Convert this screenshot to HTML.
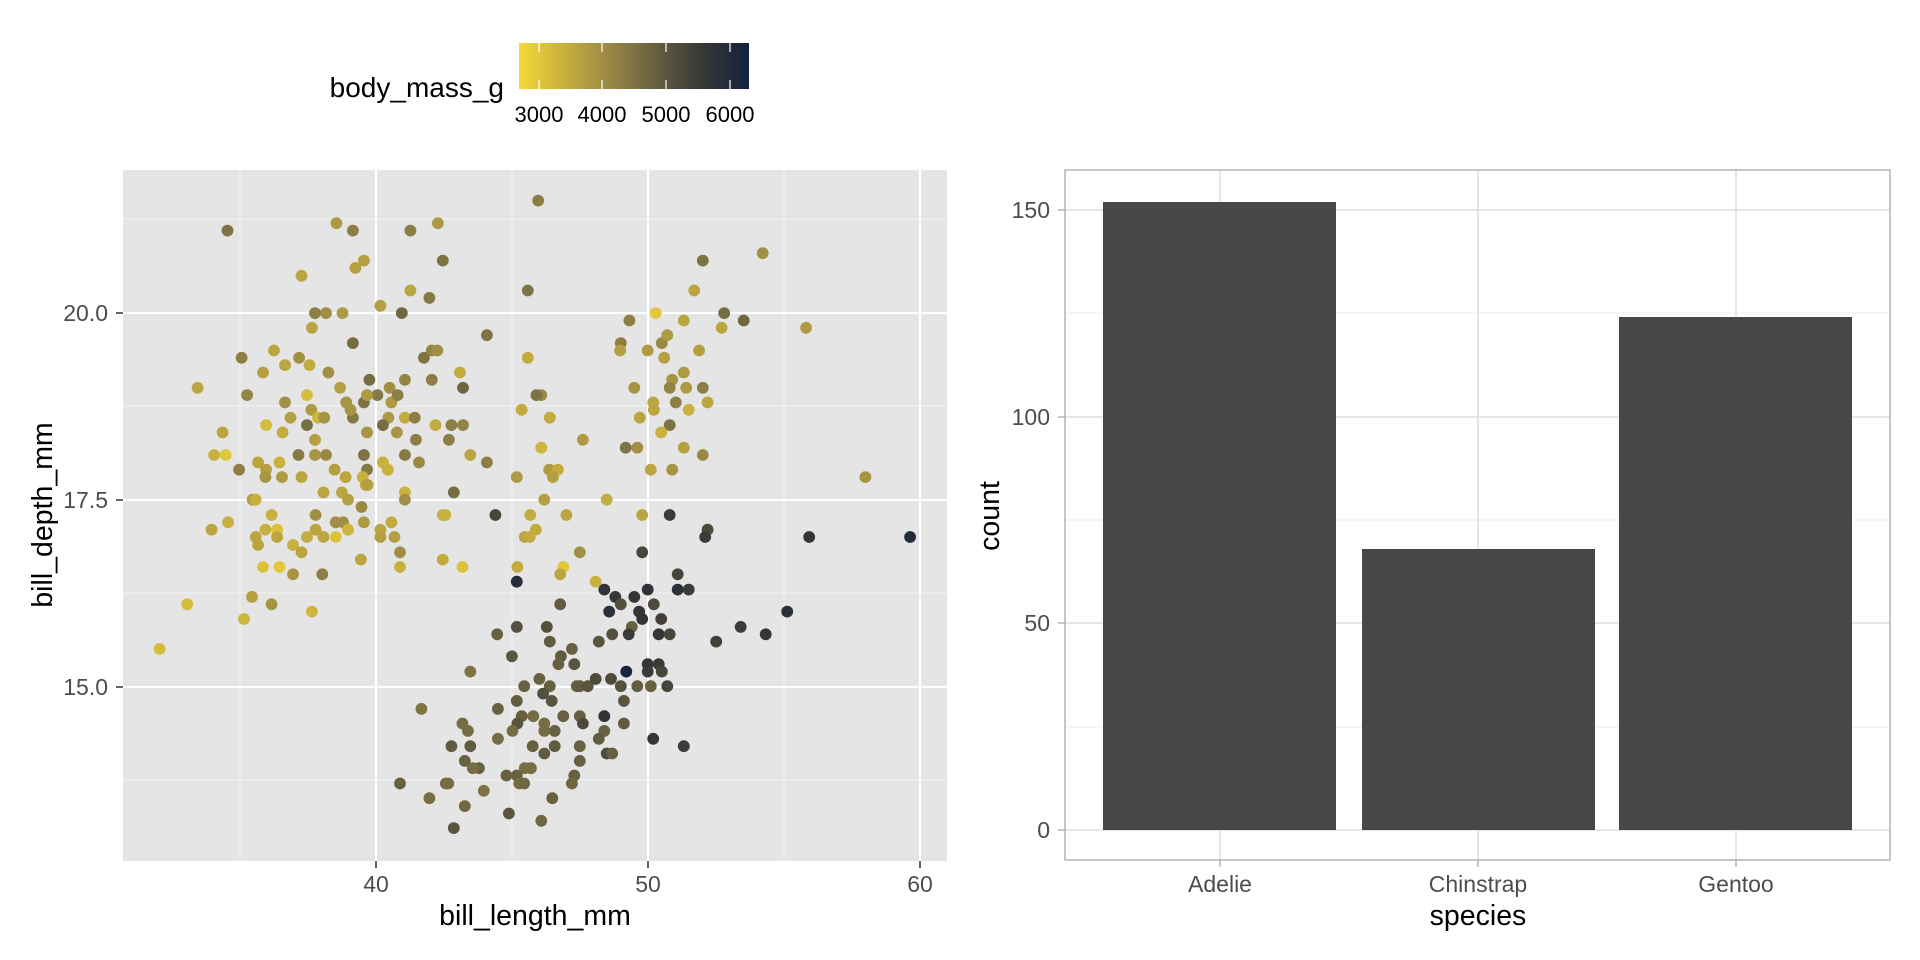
<!DOCTYPE html>
<html><head><meta charset="utf-8"><style>
html,body{margin:0;padding:0;background:#fff;}
svg{display:block;font-family:"Liberation Sans",Arial,sans-serif;}
</style></head><body>
<svg id="s" width="1920" height="960" viewBox="0 0 1920 960" xmlns="http://www.w3.org/2000/svg">
<defs><linearGradient id="g" x1="0" x2="1" y1="0" y2="0">
<stop offset="0" stop-color="#F3D83A"/><stop offset="0.222" stop-color="#c2ab3f"/><stop offset="0.361" stop-color="#a08f45"/><stop offset="0.5" stop-color="#7e7344"/><stop offset="0.639" stop-color="#5a553f"/><stop offset="0.806" stop-color="#363636"/><stop offset="1" stop-color="#13223f"/></linearGradient></defs>
<!-- legend -->
<text x="504" y="97" font-size="28" text-anchor="end" fill="#000">body_mass_g</text>
<rect x="519" y="43" width="230" height="46" fill="url(#g)"/>
<g stroke="#fff" stroke-width="1.2">
<line x1="539" y1="43" x2="539" y2="52"/><line x1="539" y1="80" x2="539" y2="89"/>
<line x1="602" y1="43" x2="602" y2="52"/><line x1="602" y1="80" x2="602" y2="89"/>
<line x1="666" y1="43" x2="666" y2="52"/><line x1="666" y1="80" x2="666" y2="89"/>
<line x1="730" y1="43" x2="730" y2="52"/><line x1="730" y1="80" x2="730" y2="89"/>
</g>
<g font-size="22" fill="#000" text-anchor="middle">
<text x="539" y="122">3000</text><text x="602" y="122">4000</text><text x="666" y="122">5000</text><text x="730" y="122">6000</text></g>
<!-- left panel -->
<rect x="123" y="170" width="824" height="691" fill="#e5e5e5"/>
<g stroke="#f2f2f2" stroke-width="1">
<line x1="240" y1="170" x2="240" y2="861"/><line x1="512" y1="170" x2="512" y2="861"/><line x1="784" y1="170" x2="784" y2="861"/>
<line x1="123" y1="219" x2="947" y2="219"/><line x1="123" y1="406" x2="947" y2="406"/><line x1="123" y1="593" x2="947" y2="593"/><line x1="123" y1="780" x2="947" y2="780"/>
</g>
<g stroke="#fff" stroke-width="2">
<line x1="376" y1="170" x2="376" y2="861"/><line x1="648" y1="170" x2="648" y2="861"/><line x1="920" y1="170" x2="920" y2="861"/>
<line x1="123" y1="313" x2="947" y2="313"/><line x1="123" y1="500" x2="947" y2="500"/><line x1="123" y1="687" x2="947" y2="687"/>
</g>
<g stroke="#333" stroke-width="1.5">
<line x1="116" y1="313" x2="123" y2="313"/><line x1="116" y1="500" x2="123" y2="500"/><line x1="116" y1="687" x2="123" y2="687"/>
<line x1="376" y1="861" x2="376" y2="868"/><line x1="648" y1="861" x2="648" y2="868"/><line x1="920" y1="861" x2="920" y2="868"/>
</g>
<g font-size="23" fill="#4d4d4d">
<text x="108" y="321" text-anchor="end">20.0</text><text x="108" y="508" text-anchor="end">17.5</text><text x="108" y="695" text-anchor="end">15.0</text>
<text x="376" y="892" text-anchor="middle">40</text><text x="648" y="892" text-anchor="middle">50</text><text x="920" y="892" text-anchor="middle">60</text>
</g>
<text x="535" y="925" font-size="28.5" text-anchor="middle">bill_length_mm</text>
<text transform="translate(52,515) rotate(-90)" font-size="28.5" text-anchor="middle">bill_depth_mm</text>
<g id="pts"></g>
<!-- right panel -->
<rect x="1065" y="170" width="825" height="690" fill="#fff"/>
<g stroke="#ebebeb" stroke-width="1">
<line x1="1065" y1="313" x2="1890" y2="313"/><line x1="1065" y1="520" x2="1890" y2="520"/><line x1="1065" y1="727" x2="1890" y2="727"/>
</g>
<g stroke="#dedede" stroke-width="1.5">
<line x1="1065" y1="210" x2="1890" y2="210"/><line x1="1065" y1="417" x2="1890" y2="417"/><line x1="1065" y1="623" x2="1890" y2="623"/><line x1="1065" y1="830" x2="1890" y2="830"/>
<line x1="1220" y1="170" x2="1220" y2="860"/><line x1="1478" y1="170" x2="1478" y2="860"/><line x1="1736" y1="170" x2="1736" y2="860"/>
</g>
<g fill="#474747">
<rect x="1103" y="202" width="233" height="628"/>
<rect x="1362" y="549" width="233" height="281"/>
<rect x="1619" y="317" width="233" height="513"/>
</g>
<rect x="1065" y="170" width="825" height="690" fill="none" stroke="#b3b3b3" stroke-width="1.5"/>
<g stroke="#b3b3b3" stroke-width="1.5">
<line x1="1058" y1="210" x2="1065" y2="210"/><line x1="1058" y1="417" x2="1065" y2="417"/><line x1="1058" y1="623" x2="1065" y2="623"/><line x1="1058" y1="830" x2="1065" y2="830"/>
<line x1="1220" y1="860" x2="1220" y2="867"/><line x1="1478" y1="860" x2="1478" y2="867"/><line x1="1736" y1="860" x2="1736" y2="867"/>
</g>
<g font-size="23" fill="#4d4d4d">
<text x="1050" y="218" text-anchor="end">150</text><text x="1050" y="425" text-anchor="end">100</text><text x="1050" y="631" text-anchor="end">50</text><text x="1050" y="838" text-anchor="end">0</text>
<text x="1220" y="892" text-anchor="middle">Adelie</text><text x="1478" y="892" text-anchor="middle">Chinstrap</text><text x="1736" y="892" text-anchor="middle">Gentoo</text>
</g>
<text x="1478" y="925" font-size="28.5" text-anchor="middle">species</text>
<text transform="translate(999,516) rotate(-90)" font-size="28.5" text-anchor="middle">count</text>
</svg>
<script>
var P=[[372,377,4.5],[550,365,3.8],[577,377,4.3],[671,377,4.3],[716,365,3.8],[493,451,3.6],[581,438,3.7],[595,426,3.7],[724,426,4.5],[671,475,3.6],[622,500,3.7],[657,512,4.7],[702,487,4.4],[515,512,4.3],[533,512,4.0],[560,512,3.8],[510,536,3.6],[577,561,4.6],[395,585,4.3],[448,573,3.6],[489,585,4.0],[466,597,3.6],[506,597,3.5],[430,609,3.7],[537,609,4.0],[693,585,4.5],[706,573,4.2],[715,573,4.0],[323,634,3.6],[404,646,4.2],[502,646,3.2],[556,634,3.7],[604,621,4.6],[617,646,4.4],[637,634,4.0],[662,621,4.2],[757,634,4.7],[752,609,3.5],[706,621,4.3],[466,658,4.0],[475,683,3.7],[509,670,3.8],[520,683,3.3],[530,683,3.9],[577,683,4.4],[435,695,3.2],[462,707,3.5],[502,695,4.6],[515,719,3.7],[566,658,3.9],[573,670,3.9],[595,658,4.5],[600,646,3.8],[640,658,3.8],[650,646,4.3],[635,683,3.8],[626,695,4.6],[662,683,3.5],[678,683,4.3],[712,695,3.5],[738,695,4.3],[757,695,4.2],[649,707,3.9],[680,719,4.3],[734,719,4.3],[600,707,3.9],[364,707,3.6],[350,744,3.4],[369,744,3.0],[391,768,4.3],[422,756,3.6],[435,768,3.7],[457,756,3.4],[488,744,4.4],[515,744,3.9],[533,744,4.1],[547,768,3.7],[595,744,4.5],[600,768,4.4],[662,744,4.4],[685,756,4.1],[626,756,3.4],[634,768,3.4],[565,780,3.6],[593,780,3.4],[598,793,3.5],[434,780,3.9],[461,780,3.8],[493,780,3.6],[529,805,3.6],[559,805,3.6],[601,793,3.7],[662,805,3.4],[742,805,4.6],[769,744,3.6],[796,756,4.3],[796,548,4.5],[413,817,3.7],[418,817,3.4],[569,817,3.7],[591,829,4.1],[662,817,4.0],[346,866,3.6],[373,854,3.4],[418,878,3.6],[422,891,3.6],[444,842,3.4],[434,866,3.4],[453,866,3.1],[453,878,3.6],[479,891,3.4],[493,903,3.6],[502,878,3.5],[516,866,3.6],[516,842,4.0],[529,878,3.6],[549,854,4.0],[561,854,4.0],[549,878,3.1],[569,866,3.3],[595,854,3.8],[622,866,3.6],[622,878,3.7],[645,878,3.7],[640,854,3.5],[654,903,4.0],[654,927,3.4],[430,927,3.1],[457,927,3.0],[479,939,3.9],[527,939,4.3],[590,915,3.6],[724,915,3.5],[756,927,3.1],[724,842,3.4],[728,842,3.4],[412,976,3.7],[444,988,3.9],[306,988,3.2],[399,1012,3.3],[510,1000,3.3],[261,1061,3.2],
[880,328,4.3],[863,475,4.5],[1247,414,4.0],[1149,426,4.5],[1135,475,3.6],[1029,524,4.3],[1072,512,3.0],[1118,524,3.6],[1184,512,4.6],[1216,524,4.7],[1180,536,3.6],[1318,536,3.8],[1015,561,4.3],[1014,573,3.7],[1059,573,3.8],[1082,561,4.1],[1091,548,3.8],[1086,585,3.7],[1143,573,3.7],[1118,609,3.8],[1099,621,3.9],[1037,634,3.9],[1095,634,4.2],[1122,634,3.8],[1149,634,4.3],[1068,658,3.6],[1069,670,3.6],[1105,658,4.3],[1126,670,3.4],[1157,658,3.6],[1046,683,3.6],[1095,695,4.5],[1081,707,3.4],[1023,732,4.5],[1042,732,4.0],[1118,732,3.7],[1149,744,4.1],[1064,768,3.6],[1099,768,3.9],[1415,780,3.9],[1050,842,3.6],[863,585,3.5],[853,670,3.5],[885,646,4.1],[877,646,4.5],[899,683,3.5],[885,732,3.3],[845,780,3.8],[898,768,3.8],[912,768,3.5],[904,780,3.7],[890,817,3.7],[867,842,3.5],[953,719,3.8],[992,817,3.5],[926,842,3.6],[876,866,3.5],[858,878,3.6],[866,878,3.5],[948,903,4.0],[846,927,3.5],[921,927,3.0],[916,939,3.6],[974,951,3.4],[810,842,5.3],
[1095,842,5.5],[1157,866,5.2],[1153,878,5.5],[1323,878,5.6],[1488,878,6.0],[1050,903,5.3],[1108,939,5.3],[1108,964,5.8],[1126,964,5.5],[845,951,5.9],[988,964,5.7],[1006,976,5.6],[1037,976,5.6],[1059,964,5.7],[1015,988,5.1],[1045,1000,5.6],[1069,988,5.2],[996,1000,5.8],[1050,1012,5.7],[1081,1012,5.4],[1287,1000,5.8],[916,988,4.9],[1033,1025,4.8],[1028,1037,5.5],[1077,1037,5.6],[1095,1037,5.3],[1001,1037,5.1],[979,1049,5.0],[1171,1049,5.4],[1211,1025,5.5],[1252,1037,5.6],[845,1025,5.1],[894,1025,5.1],[813,1037,4.8],[899,1049,4.9],[935,1061,4.8],[917,1073,4.9],[837,1073,5.0],[913,1086,4.8],[939,1086,5.0],[1059,1086,5.6],[1077,1086,5.5],[1059,1098,5.5],[1082,1098,5.3],[1024,1098,6.2],[769,1098,4.5],[857,1122,4.8],[882,1110,4.8],[899,1122,4.8],[943,1122,4.8],[948,1122,4.9],[961,1122,5.0],[974,1110,5.2],[999,1110,5.2],[1015,1122,5.1],[1042,1122,4.9],[1064,1122,4.8],[1091,1122,5.3],[1020,1146,5.0],[845,1146,4.9],[888,1134,5.1],[902,1146,5.0],[814,1159,4.8],[689,1159,4.5],[853,1171,4.8],[872,1171,4.6],[921,1171,4.8],[948,1171,4.8],[988,1171,5.7],[846,1183,5.0],[838,1195,4.6],[890,1183,4.6],[890,1195,4.6],[907,1195,4.8],[953,1183,5.2],[988,1195,4.8],[1020,1183,4.9],[765,1195,4.6],[756,1183,4.6],[814,1208,4.6],[871,1220,4.8],[907,1220,4.9],[948,1220,4.8],[890,1232,4.9],[979,1208,4.9],[738,1220,4.9],[769,1220,4.9],[1068,1208,5.6],[1118,1220,5.5],[760,1244,4.8],[783,1256,4.8],[773,1256,4.6],[948,1244,4.8],[992,1232,5.2],[1001,1232,4.8],[654,1281,4.8],[729,1281,4.7],[733,1281,4.6],[828,1268,4.8],[845,1268,4.8],[858,1256,4.6],[868,1256,4.6],[849,1281,4.6],[857,1281,4.7],[939,1268,4.8],[935,1281,4.7],[791,1293,4.5],[702,1305,4.6],[903,1305,4.8],[760,1318,4.7],[832,1330,5.0],[885,1342,4.7],[742,1354,5.0]];
var S=[[2.7,[243,216,58]],[3.5,[194,171,63]],[4.0,[160,143,69]],[4.5,[126,115,68]],[5.0,[90,85,63]],[5.6,[54,54,54]],[6.3,[19,34,63]]];
function col(m){if(m<=S[0][0])return S[0][1];for(var i=1;i<S.length;i++){if(m<=S[i][0]){var a=S[i-1],b=S[i],t=(m-a[0])/(b[0]-a[0]);return a[1].map(function(v,k){return Math.round(v+(b[1][k]-v)*t);});}}return S[S.length-1][1];}
var g=document.getElementById('pts'),h='';
P.forEach(function(p){var c=col(p[2]);h+='<circle cx="'+(p[0]/1.635).toFixed(1)+'" cy="'+(p[1]/1.635).toFixed(1)+'" r="5.9" fill="rgb('+c.join(',')+')"/>';});
g.innerHTML=h;
</script>
</body></html>
